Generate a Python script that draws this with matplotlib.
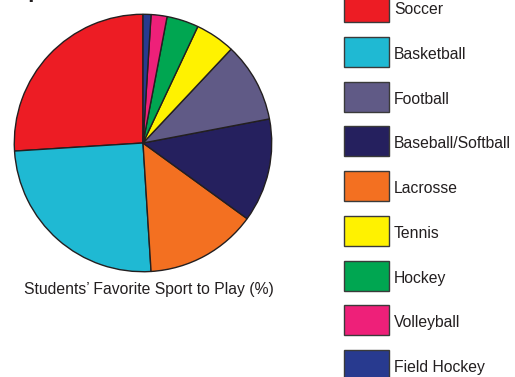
import matplotlib
matplotlib.use("Agg")
import matplotlib.pyplot as plt
from matplotlib.patches import Rectangle

sports = ["Soccer", "Basketball", "Football", "Baseball/Softball", "Lacrosse",
          "Tennis", "Hockey", "Volleyball", "Field Hockey"]
percent = [26, 25, 10, 13, 14, 5, 4, 2, 1]
colors = ["#ED1C24", "#1FB9D3", "#605A86", "#25205E", "#F37021",
          "#FFF200", "#00A651", "#EE2079", "#283A8F"]
# order in which slices appear counter-clockwise from the top
pie_order = ["Soccer", "Basketball", "Lacrosse", "Baseball/Softball", "Football",
             "Tennis", "Hockey", "Volleyball", "Field Hockey"]
caption = "Students\u2019 Favorite Sport to Play (%)"
title = "Graph of Results"

W, H = 515, 377
fig = plt.figure(figsize=(W / 100, H / 100), dpi=100)
plt.rcParams['font.family'] = ['Liberation Sans', 'DejaVu Sans']
txtc = "#231F20"

# pie axes
cx, cy, r = 143, 143, 130
ax = fig.add_axes([(cx - r) / W, (H - cy - r) / H, 2 * r / W, 2 * r / H])
idx = [sports.index(s) for s in pie_order]
ax.pie([percent[i] for i in idx], colors=[colors[i] for i in idx],
       startangle=90, counterclock=True, radius=1,
       wedgeprops=dict(edgecolor=txtc, linewidth=1.0))
ax.set_xlim(-1.01, 1.01)
ax.set_ylim(-1.01, 1.01)
ax.set_aspect('equal')
ax.axis('off')

# overlay axes in pixel coordinates
ov = fig.add_axes([0, 0, 1, 1])
ov.set_xlim(0, W)
ov.set_ylim(H, 0)
ov.axis('off')

ov.text(149, 294, caption, ha='center', va='baseline', fontsize=11.3, color=txtc)
# title sits mostly above the top edge in the reference (only descenders visible)
ov.text(-10, -3, title, ha='left', va='baseline', fontsize=16, fontweight='bold', color=txtc)

top0, step, bh = -7.7, 44.7, 30
for i, (s, c) in enumerate(zip(sports, colors)):
    t = top0 + step * i
    ov.add_patch(Rectangle((344, t), 45, bh, facecolor=c, edgecolor="#3a3a3a", linewidth=1.0))
    ov.text(394, t + 22, s, ha='left', va='baseline', fontsize=11.3, color=txtc)

fig.savefig("out.png", dpi=100)
